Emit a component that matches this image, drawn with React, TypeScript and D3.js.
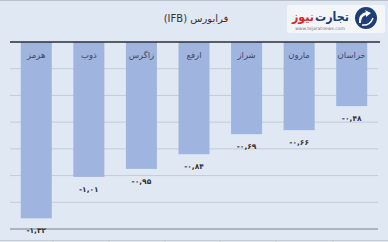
import React from "react";
import * as d3 from "d3";

const categories = ["هرمز", "ذوب", "زاگرس", "ارفع", "شراز", "مارون", "خراسان"];
const values = [-1.32, -1.01, -0.95, -0.84, -0.69, -0.66, -0.48];
const valueLabels = ["-۱,۳۲", "-۱,۰۱", "-۰,۹۵", "-۰,۸۴", "-۰,۶۹", "-۰,۶۶", "-۰,۴۸"];
const yTicks = [0, -0.2, -0.4, -0.6, -0.8, -1.0, -1.2, -1.4];
const title = "فرابورس (IFB)";

const W = 388;
const H = 242;
const left = 10;
const right = 378;
const top = 42;
const bottom = 229;

export default function App() {
  const x = d3.scaleBand<string>().domain(categories).range([left, right]).paddingInner(0.41).paddingOuter(0.205);
  const y = d3.scaleLinear().domain([0, -1.4]).range([top, bottom]);
  const font = "'DejaVu Sans', 'Noto Sans', sans-serif";
  const sepXs = [53, 109, 165, 220, 276, 333];

  return (
    <svg width={W} height={H} style={{ position: "absolute", left: 0, top: 0 }} fontFamily={font}>
      <rect x={0} y={0} width={W} height={H} fill="#dfe8f3" />
      <line x1={0} x2={W} y1={0.5} y2={0.5} stroke="#b9c0c8" />
      {/* gridlines */}
      {yTicks.slice(1).map((t, i) => (
        <line key={i} x1={left} x2={right} y1={y(t)} y2={y(t)} stroke={t === -1.4 ? "#9aa4ae" : "#c3ccd6"} strokeWidth={t === -1.4 ? 1.3 : 1} />
      ))}
      {/* bars */}
      {categories.map((c, i) => (
        <rect key={c} x={x(c)} y={y(0)} width={x.bandwidth()} height={y(values[i]) - y(0)} fill="#9fb5df" />
      ))}
      {/* zero line */}
      <line x1={left} x2={right + 2} y1={y(0)} y2={y(0)} stroke="#2b2f36" strokeWidth={1.5} />
      {/* category labels */}
      {categories.map((c) => (
        <text key={c} x={(x(c) as number) + x.bandwidth() / 2} y={58} fontSize={8.5} fill="#3c4a66" textAnchor="middle">
          {c}
        </text>
      ))}
      {/* value labels */}
      {categories.map((c, i) => (
        <text key={c} x={(x(c) as number) + x.bandwidth() / 2} y={y(values[i]) + 15} fontSize={7.5} fontWeight="bold" fill="#333" textAnchor="middle" style={{ direction: "ltr", unicodeBidi: "bidi-override" }}>
          {valueLabels[i]}
        </text>
      ))}
      {/* bottom frame */}
      <line x1={0} x2={W} y1={240.5} y2={240.5} stroke="#c7ccd2" />
      {sepXs.map((sx) => (
        <line key={sx} x1={sx} x2={sx} y1={240.5} y2={H} stroke="#c7ccd2" />
      ))}
      {/* title */}
      <text x={196} y={22} fontSize={10} fill="#333" textAnchor="middle" style={{ direction: "rtl", unicodeBidi: "embed" }}>
        {title}
      </text>
      {/* logo */}
      <rect x={287} y={5} width={98} height={28} rx={3} fill="#f3f5f8" />
      <text x={315} y={21} fontSize={12.5} fontWeight="bold" fill="#1d3c78" textLength={34} lengthAdjust="spacingAndGlyphs">تجارت</text>
      <text x={292} y={21} fontSize={12.5} fontWeight="bold" fill="#d52a2e" textLength={22} lengthAdjust="spacingAndGlyphs">نیوز</text>
      <text x={320} y={30} fontSize={4.5} fill="#777" textAnchor="middle">www.tejaratnews.com</text>
      <circle cx={366} cy={18} r={11} fill="#1f3e78" />
      <path d="M359,23 Q358,14 366,12 L365,10 L371,13 L366,17 L366,15 Q361,16 361,23 Z" fill="#fff" />
      <path d="M362,25 Q370,26 373,18" stroke="#fff" strokeWidth={1.5} fill="none" />
    </svg>
  );
}
